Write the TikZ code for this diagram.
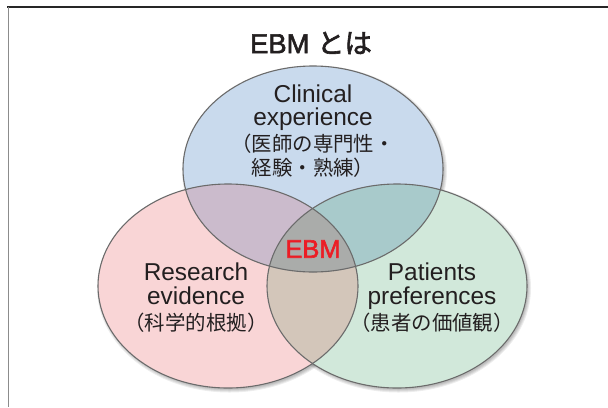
\documentclass[tikz,border=0pt]{standalone}
\usepackage{fontspec}
\setmainfont{Liberation Sans}
\newfontfamily\jp{Noto Sans CJK JP}
\newfontfamily\medsans{Liberation Sans}[FakeBold=2.2]
\newfontfamily\medjp{Noto Sans CJK JP}[FakeBold=2.2]

\definecolor{fillTop}{HTML}{C9DAED}
\definecolor{fillLeft}{HTML}{F9D5D6}
\definecolor{fillRight}{HTML}{D1E8DA}
\definecolor{fillTL}{HTML}{CBBBCC}
\definecolor{fillTR}{HTML}{A8CACB}
\definecolor{fillLR}{HTML}{D3C6BA}
\definecolor{fillAll}{HTML}{AAACAA}
\definecolor{rimGray}{HTML}{6B6B6B}
\definecolor{ebmRed}{HTML}{EC1C24}
\definecolor{textGray}{HTML}{231F20}

\begin{document}
\begin{tikzpicture}[x=1bp,y=-1bp,
  rim/.style={draw=rimGray,line width=1.1bp},
  lat/.style={font=\fontsize{24.5}{24}\selectfont,text=textGray,align=center,inner sep=0pt},
  softshade/.style={fill=black,fill opacity=0.07}
]
\useasboundingbox (0,0) rectangle (608,407);
\fill[white] (0,0) rectangle (608,407);

% frame lines
\draw[line width=1.3bp,black!85] (7,7) -- (608,7);
\draw[line width=1.8bp,black!45] (8.5,7) -- (8.5,407);

% soft shadows under the three circles (stacked translucent rings)
\foreach \d in {-0.5,0.5,1.5,2.5}{
  \fill[softshade] (314.5,171) ellipse [x radius=130+\d,y radius=103+\d];
  \fill[softshade] (229.5,288) ellipse [x radius=130+\d,y radius=102+\d];
  \fill[softshade] (398.5,288) ellipse [x radius=130+\d,y radius=102+\d];
}

% base fills
\fill[fillTop] (313,169) ellipse [x radius=130,y radius=103];
\fill[fillLeft] (228,286) ellipse [x radius=130,y radius=102];
\fill[fillRight] (397,286) ellipse [x radius=130,y radius=102];

% left/right overlap
\begin{scope}
  \clip (228,286) ellipse [x radius=130,y radius=102];
  \fill[fillLR] (397,286) ellipse [x radius=130,y radius=102];
\end{scope}
% overlaps with the top circle
\begin{scope}
  \clip (313,169) ellipse [x radius=130,y radius=103];
  \fill[fillTL] (228,286) ellipse [x radius=130,y radius=102];
  \fill[fillTR] (397,286) ellipse [x radius=130,y radius=102];
  \clip (228,286) ellipse [x radius=130,y radius=102];
  \fill[fillAll] (397,286) ellipse [x radius=130,y radius=102];
\end{scope}

% outlines
\draw[rim] (313,169) ellipse [x radius=130,y radius=103];
\draw[rim] (228,286) ellipse [x radius=130,y radius=102];
\draw[rim] (397,286) ellipse [x radius=130,y radius=102];

% labels
\node[text=textGray,inner sep=0pt,font=\medsans\fontsize{27.5}{30}\selectfont] (title) at (311,43) {EBM {\medjp とは}};

\node[lat] (clin) at (313,131)
  {Clinical\\experience\\[2bp]{\jp\fontsize{20.5}{24}\selectfont （医師の専門性・}\\{\jp\fontsize{20.5}{24}\selectfont 経験・熟練）}};

\node[lat] (res) at (196,298)
  {Research\\evidence\\[2bp]{\jp\fontsize{20.5}{24}\selectfont （科学的根拠）}};

\node[lat] (pat) at (432,298)
  {Patients\\preferences\\[2bp]{\jp\fontsize{20.5}{24}\selectfont （患者の価値観）}};

\node[inner sep=0pt,text=ebmRed,font=\medsans\fontsize{25.5}{28}\selectfont] (ebm) at (313,249) {EBM};
\end{tikzpicture}
\end{document}
